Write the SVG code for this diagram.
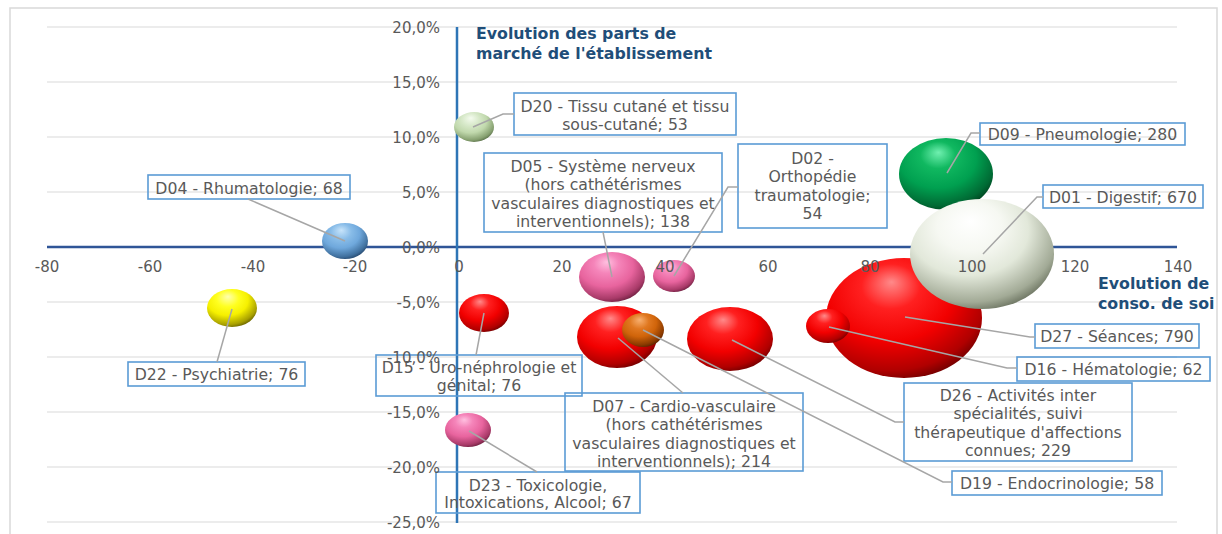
<svg xmlns="http://www.w3.org/2000/svg" width="1222" height="534" viewBox="0 0 1222 534">
<style>
.grid{stroke:#D9D9D9;stroke-width:1.2;fill:none}
.tick{font-family:"DejaVu Sans",sans-serif;font-size:15px;fill:#595959}
.lbl{font-family:"DejaVu Sans",sans-serif;font-size:15.7px;fill:#595959;text-anchor:middle}
.box{fill:none;stroke:#5B9BD5;stroke-width:1.6}
.lead{fill:none;stroke:#A6A6A6;stroke-width:1.5}
.title{font-family:"DejaVu Sans",sans-serif;font-size:15.8px;font-weight:bold;fill:#1F4E79}
</style>
<defs>
<radialGradient id="gRed" cx="0.4" cy="0.35" r="0.75" fx="0.42" fy="0.2">
<stop offset="0" stop-color="#FF8A8A"/><stop offset="0.25" stop-color="#FF2020"/><stop offset="0.55" stop-color="#F20000"/><stop offset="0.82" stop-color="#B00000"/><stop offset="1" stop-color="#4A0000"/>
</radialGradient>
<radialGradient id="gPink" cx="0.4" cy="0.35" r="0.75" fx="0.42" fy="0.2">
<stop offset="0" stop-color="#FFC0E0"/><stop offset="0.25" stop-color="#F585BA"/><stop offset="0.55" stop-color="#E8649E"/><stop offset="0.82" stop-color="#A83A68"/><stop offset="1" stop-color="#4A1028"/>
</radialGradient>
<radialGradient id="gGreen" cx="0.4" cy="0.35" r="0.75" fx="0.42" fy="0.2">
<stop offset="0" stop-color="#70F0B0"/><stop offset="0.25" stop-color="#10B860"/><stop offset="0.55" stop-color="#00A050"/><stop offset="0.82" stop-color="#006A34"/><stop offset="1" stop-color="#002A12"/>
</radialGradient>
<radialGradient id="gWhite" cx="0.4" cy="0.35" r="0.75" fx="0.42" fy="0.2">
<stop offset="0" stop-color="#FFFFFF"/><stop offset="0.3" stop-color="#F6F8F2"/><stop offset="0.55" stop-color="#E2E8DA"/><stop offset="0.82" stop-color="#A2AA96"/><stop offset="1" stop-color="#4A5240"/>
</radialGradient>
<radialGradient id="gPale" cx="0.4" cy="0.35" r="0.75" fx="0.42" fy="0.2">
<stop offset="0" stop-color="#F4FBEE"/><stop offset="0.3" stop-color="#D6E8C8"/><stop offset="0.55" stop-color="#C0D8AC"/><stop offset="0.82" stop-color="#86A070"/><stop offset="1" stop-color="#3E5030"/>
</radialGradient>
<radialGradient id="gBlue" cx="0.4" cy="0.35" r="0.75" fx="0.42" fy="0.2">
<stop offset="0" stop-color="#C8E4FA"/><stop offset="0.3" stop-color="#88BCE8"/><stop offset="0.55" stop-color="#6FA8DC"/><stop offset="0.82" stop-color="#40709E"/><stop offset="1" stop-color="#183050"/>
</radialGradient>
<radialGradient id="gYellow" cx="0.4" cy="0.35" r="0.75" fx="0.42" fy="0.2">
<stop offset="0" stop-color="#FFFFB0"/><stop offset="0.3" stop-color="#FFFF20"/><stop offset="0.55" stop-color="#F6F000"/><stop offset="0.82" stop-color="#A8A000"/><stop offset="1" stop-color="#403C00"/>
</radialGradient>
<radialGradient id="gOrange" cx="0.4" cy="0.35" r="0.75" fx="0.42" fy="0.2">
<stop offset="0" stop-color="#F8B070"/><stop offset="0.3" stop-color="#E07820"/><stop offset="0.55" stop-color="#D0640A"/><stop offset="0.82" stop-color="#8A3A00"/><stop offset="1" stop-color="#3A1400"/>
</radialGradient>
<clipPath id="plotClip"><rect x="0" y="0" width="1215" height="534"/></clipPath>
</defs>
<rect x="0" y="0" width="1222" height="534" fill="#FFFFFF"/>
<rect x="10" y="8" width="1207" height="540" fill="none" stroke="#D9D9D9" stroke-width="1.5"/>
<g id="gridlines">
<line class="grid" x1="47" y1="27" x2="1177" y2="27"/>
<line class="grid" x1="47" y1="82" x2="1177" y2="82"/>
<line class="grid" x1="47" y1="137" x2="1177" y2="137"/>
<line class="grid" x1="47" y1="192" x2="1177" y2="192"/>
<line class="grid" x1="47" y1="302" x2="1177" y2="302"/>
<line class="grid" x1="47" y1="357" x2="1177" y2="357"/>
<line class="grid" x1="47" y1="412" x2="1177" y2="412"/>
<line class="grid" x1="47" y1="467" x2="1177" y2="467"/>
<line class="grid" x1="47" y1="522" x2="1177" y2="522"/>
</g>
<g id="axes">
<line x1="47" y1="247" x2="1177" y2="247" stroke="#2F5597" stroke-width="2.5"/>
<line x1="457" y1="27" x2="457" y2="523" stroke="#2E75B6" stroke-width="2.5"/>
</g>
<g id="D27"><ellipse cx="904" cy="318" rx="78" ry="60" fill="url(#gRed)"/><rect class="box" x="1035" y="324" width="164" height="24"/><text class="lbl" x="1117" y="341.5">D27 - Séances; 790</text></g>
<g id="D09"><ellipse cx="946" cy="174" rx="47" ry="36" fill="url(#gGreen)"/><rect class="box" x="980" y="123" width="205" height="22"/><text class="lbl" x="1082.5" y="139.5">D09 - Pneumologie; 280</text></g>
<g id="D01"><ellipse cx="982" cy="254" rx="72" ry="55" fill="url(#gWhite)"/><rect class="box" x="1043" y="185" width="160" height="23"/><text class="lbl" x="1123" y="202.5">D01 - Digestif; 670</text></g>
<g id="D16"><ellipse cx="828" cy="326" rx="22" ry="17" fill="url(#gRed)"/><rect class="box" x="1017" y="357" width="193" height="24"/><text class="lbl" x="1113.5" y="374.5">D16 - Hématologie; 62</text></g>
<g id="D07"><ellipse cx="617" cy="337" rx="40" ry="31" fill="url(#gRed)"/><rect class="box" x="565" y="393" width="238" height="78"/><text class="lbl" x="684" y="411.5">D07 - Cardio-vasculaire</text><text class="lbl" x="684" y="430">(hors cathétérismes</text><text class="lbl" x="684" y="448.5">vasculaires diagnostiques et</text><text class="lbl" x="684" y="467">interventionnels); 214</text></g>
<g id="D19"><ellipse cx="643" cy="330" rx="21" ry="17" fill="url(#gOrange)"/><rect class="box" x="952" y="471" width="210" height="24"/><text class="lbl" x="1057" y="488.5">D19 - Endocrinologie; 58</text></g>
<g id="D26"><ellipse cx="730" cy="339" rx="43" ry="32" fill="url(#gRed)"/><rect class="box" x="904" y="383" width="228" height="78"/><text class="lbl" x="1018" y="400.5">D26 - Activités inter</text><text class="lbl" x="1018" y="419">spécialités, suivi</text><text class="lbl" x="1018" y="437.5">thérapeutique d'affections</text><text class="lbl" x="1018" y="456">connues; 229</text></g>
<g id="D05"><ellipse cx="612" cy="277" rx="33" ry="25" fill="url(#gPink)"/><rect class="box" x="484" y="153" width="238" height="79"/><text class="lbl" x="603" y="171.5">D05 - Système nerveux</text><text class="lbl" x="603" y="190">(hors cathétérismes</text><text class="lbl" x="603" y="208.5">vasculaires diagnostiques et</text><text class="lbl" x="603" y="227">interventionnels); 138</text></g>
<g id="D02"><ellipse cx="674" cy="276" rx="21" ry="16" fill="url(#gPink)"/><rect class="box" x="738" y="144" width="149" height="84"/><text class="lbl" x="812.5" y="163.5">D02 -</text><text class="lbl" x="812.5" y="182">Orthopédie</text><text class="lbl" x="812.5" y="200.5">traumatologie;</text><text class="lbl" x="812.5" y="219">54</text></g>
<g id="D15"><ellipse cx="484" cy="313" rx="25" ry="19" fill="url(#gRed)"/><rect class="box" x="376" y="355" width="206" height="41"/><text class="lbl" x="479" y="372.5">D15 - Uro-néphrologie et</text><text class="lbl" x="479" y="391">génital; 76</text></g>
<g id="D20"><ellipse cx="474" cy="127" rx="20" ry="15" fill="url(#gPale)"/><rect class="box" x="514" y="93" width="222" height="42"/><text class="lbl" x="625" y="111.5">D20 - Tissu cutané et tissu</text><text class="lbl" x="625" y="129.5">sous-cutané; 53</text></g>
<g id="D23"><ellipse cx="468" cy="430" rx="23" ry="17" fill="url(#gPink)"/><rect class="box" x="436" y="472" width="204" height="41"/><text class="lbl" x="538" y="490.5">D23 - Toxicologie,</text><text class="lbl" x="538" y="508">Intoxications, Alcool; 67</text></g>
<g id="D04"><ellipse cx="345" cy="241" rx="23" ry="18" fill="url(#gBlue)"/><rect class="box" x="148" y="175" width="202" height="24"/><text class="lbl" x="249" y="193.5">D04 - Rhumatologie; 68</text></g>
<g id="D22"><ellipse cx="232" cy="308" rx="25" ry="19" fill="url(#gYellow)"/><rect class="box" x="128" y="362" width="177" height="24"/><text class="lbl" x="216.5" y="379.5">D22 - Psychiatrie; 76</text></g>
<g id="connectors">
<polyline class="lead" points="473,127 503,114 514,114"/>
<polyline class="lead" points="947,173 971,133 980,133"/>
<polyline class="lead" points="983,254 1037,197 1043,197"/>
<polyline class="lead" points="345,241 248,199"/>
<polyline class="lead" points="232,309 217,362"/>
<polyline class="lead" points="612,277 603,232"/>
<polyline class="lead" points="674,276 728,187 738,187"/>
<polyline class="lead" points="484,313 476,355"/>
<polyline class="lead" points="618,338 683,393"/>
<polyline class="lead" points="643,330 943,482 952,482"/>
<polyline class="lead" points="732,340 895,422 904,422"/>
<polyline class="lead" points="829,327 1007,368 1017,368"/>
<polyline class="lead" points="905,317 1030,337 1035,337"/>
<polyline class="lead" points="469,431 537,472"/>
</g>
<g id="yticks" class="tick" text-anchor="end">
<text x="440" y="32.5">20,0%</text>
<text x="440" y="87.5">15,0%</text>
<text x="440" y="142.5">10,0%</text>
<text x="440" y="197.5">5,0%</text>
<text x="440" y="252.5">0,0%</text>
<text x="440" y="307.5">-5,0%</text>
<text x="440" y="362.5">-10,0%</text>
<text x="440" y="417.5">-15,0%</text>
<text x="440" y="472.5">-20,0%</text>
<text x="440" y="527.5">-25,0%</text>
</g>
<g id="xticks" class="tick" text-anchor="middle">
<text x="47" y="271.5">-80</text>
<text x="150" y="271.5">-60</text>
<text x="253" y="271.5">-40</text>
<text x="355" y="271.5">-20</text>
<text x="459" y="271.5">0</text>
<text x="562" y="271.5">20</text>
<text x="665" y="271.5">40</text>
<text x="768" y="271.5">60</text>
<text x="870" y="271.5">80</text>
<text x="972" y="271.5">100</text>
<text x="1075" y="271.5">120</text>
<text x="1178" y="271.5">140</text>
</g>
<g id="axis-titles">
<text class="title" x="476" y="39">Evolution des parts de</text>
<text class="title" x="476" y="59">marché de l'établissement</text>
<g clip-path="url(#plotClip)">
<text class="title" x="1098" y="289">Evolution de la</text>
<text class="title" x="1098" y="309">conso. de soins</text>
</g>
</g>
</svg>
